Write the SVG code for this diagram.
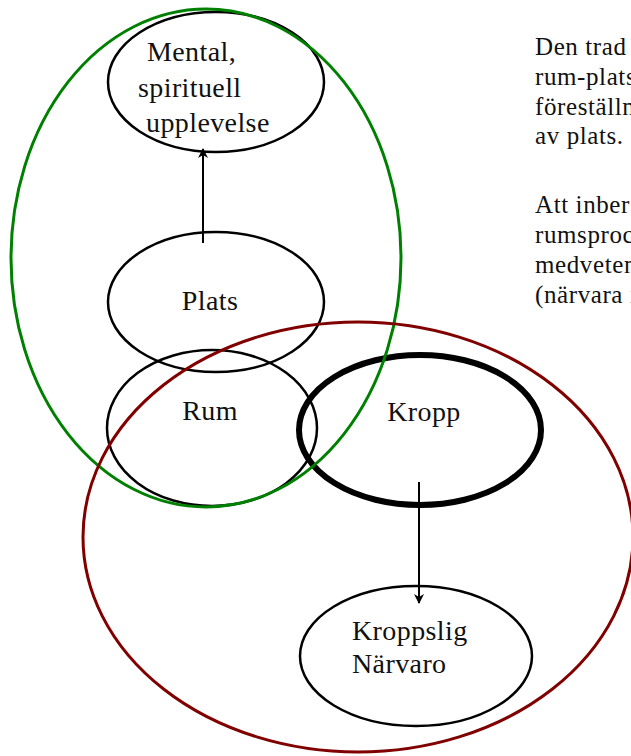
<svg xmlns="http://www.w3.org/2000/svg" width="631" height="756" viewBox="0 0 631 756">
<style>
.n{fill:none;stroke:#000;stroke-width:2.5}
.t{font-family:"Liberation Serif","DejaVu Serif",serif;font-size:28px;letter-spacing:0.4px;fill:#111}
.p{font-family:"Liberation Serif","DejaVu Serif",serif;font-size:25px;letter-spacing:0.6px;fill:#111}
.c{stroke:#000;stroke-width:2;fill:none}
</style>
<defs>
<marker id="ah" viewBox="0 0 10 10" refX="9" refY="5" markerWidth="10" markerHeight="10" markerUnits="userSpaceOnUse" orient="auto">
<path d="M0,0 L10,5 L0,10 L3,5 Z" fill="#000"/>
</marker>
</defs>
<rect width="631" height="756" fill="#fff"/>
<g id="text-right">
<text class="p" x="535" y="55">Den trad</text>
<text class="p" x="535" y="85">rum-plats</text>
<text class="p" x="535" y="115">föreställn</text>
<text class="p" x="535" y="144">av plats.</text>
<text class="p" x="535" y="213">Att inber</text>
<text class="p" x="535" y="243">rumsproc</text>
<text class="p" x="535" y="273">medveten</text>
<text class="p" x="535" y="303">(närvara i</text>
</g>
<g id="mental">
<ellipse class="n" cx="216" cy="82" rx="108" ry="70"/>
<text class="t" x="147" y="61">Mental,</text>
<text class="t" x="138" y="97">spirituell</text>
<text class="t" x="146" y="132">upplevelse</text>
</g>
<g id="plats">
<ellipse class="n" cx="216" cy="302" rx="108" ry="70"/>
<text class="t" x="210" y="310" text-anchor="middle">Plats</text>
</g>
<g id="rum">
<ellipse class="n" cx="212" cy="428" rx="105" ry="78"/>
<text class="t" x="210" y="420" text-anchor="middle">Rum</text>
</g>
<g id="kropp">
<ellipse cx="420" cy="430" rx="121" ry="75" fill="none" stroke="#000" stroke-width="6"/>
<text class="t" x="424" y="421" text-anchor="middle">Kropp</text>
</g>
<g id="kroppslig">
<ellipse class="n" cx="416" cy="656" rx="116" ry="70"/>
<text class="t" x="352" y="640">Kroppslig</text>
<text class="t" x="352" y="673">Närvaro</text>
</g>
<g id="connectors">
<line class="c" x1="203" y1="243" x2="203" y2="149" marker-end="url(#ah)"/>
<line class="c" x1="419" y1="482" x2="419" y2="603" marker-end="url(#ah)"/>
</g>
<g id="group-green">
<ellipse cx="206" cy="258" rx="195" ry="249" fill="none" stroke="#008000" stroke-width="3"/>
</g>
<g id="group-red">
<ellipse cx="358" cy="537" rx="275" ry="215" fill="none" stroke="#800000" stroke-width="3"/>
</g>
</svg>
